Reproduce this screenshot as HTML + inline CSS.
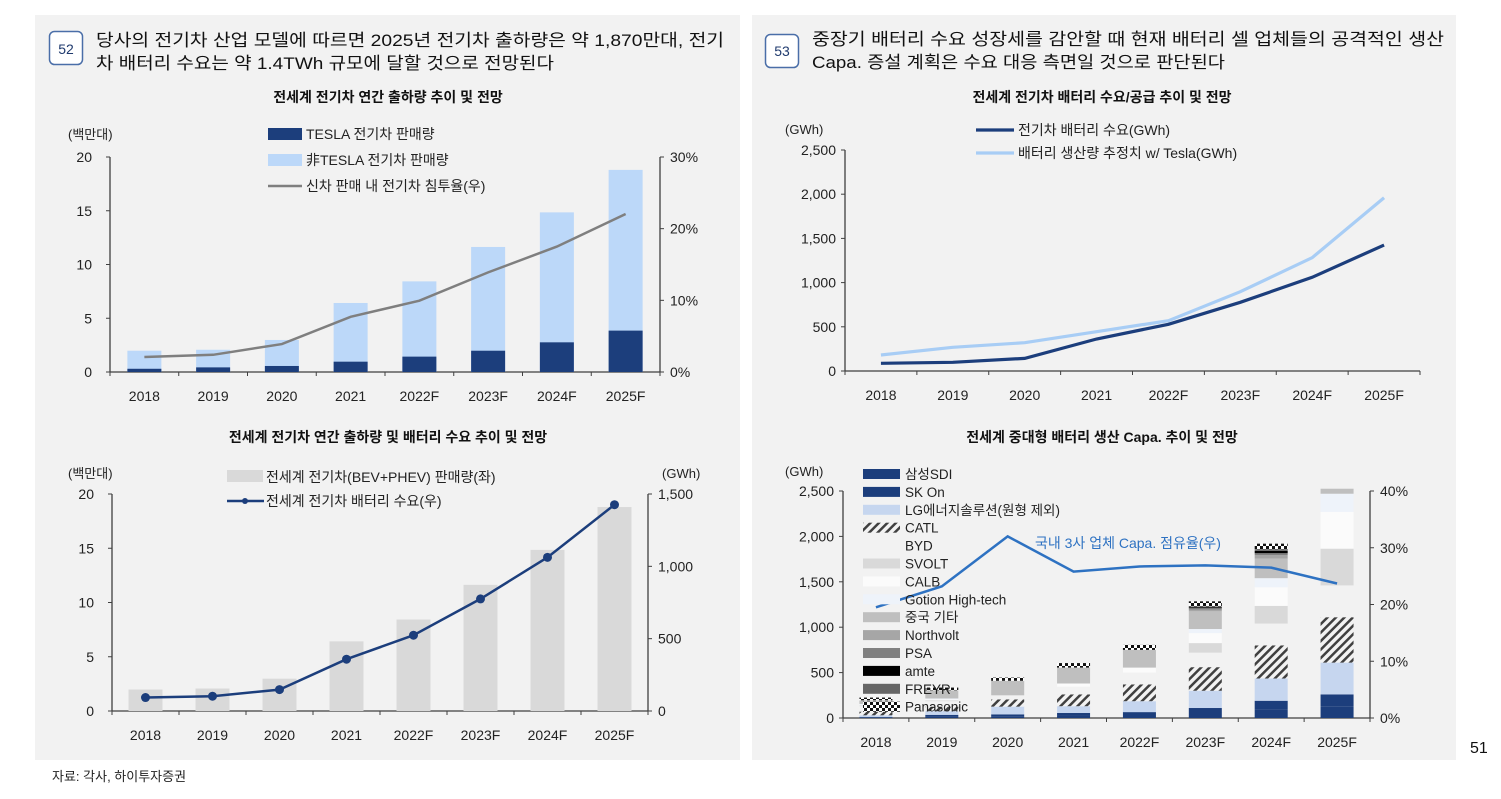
<!DOCTYPE html>
<html><head><meta charset="utf-8">
<style>
html,body{margin:0;padding:0;background:#fff;}
svg{display:block;font-family:"Liberation Sans","Noto Sans CJK KR",sans-serif;}
</style></head>
<body>
<svg id="root" width="1501" height="799" viewBox="0 0 1501 799" xmlns="http://www.w3.org/2000/svg">
<defs>
<pattern id="hatch" patternUnits="userSpaceOnUse" width="6" height="6" patternTransform="rotate(45)">
<rect width="6" height="6" fill="#f2f2f2"/><rect width="2.5" height="6" fill="#404040"/></pattern>
<pattern id="checker" patternUnits="userSpaceOnUse" width="6" height="6">
<rect width="6" height="6" fill="#fff"/><rect width="3" height="3" fill="#111"/><rect x="3" y="3" width="3" height="3" fill="#111"/></pattern>
</defs>
<rect x="35" y="15" width="705" height="745" fill="#f2f2f2"/>
<rect x="752" y="15" width="704" height="745" fill="#f2f2f2"/>
<g>
<rect x="49.5" y="31.5" width="33" height="33" rx="5" fill="#fff" stroke="#4a6ea8" stroke-width="1.5"/>
<text x="66" y="54" font-size="14" text-anchor="middle" fill="#1f3a6e">52</text>
<text x="96" y="46" font-size="17" fill="#111" textLength="628" lengthAdjust="spacingAndGlyphs">당사의 전기차 산업 모델에 따르면 2025년 전기차 출하량은 약 1,870만대, 전기</text>
<text x="96" y="69" font-size="17" fill="#111" textLength="458" lengthAdjust="spacingAndGlyphs">차 배터리 수요는 약 1.4TWh 규모에 달할 것으로 전망된다</text>
</g>
<g>
<rect x="765.5" y="34.5" width="33" height="33" rx="5" fill="#fff" stroke="#4a6ea8" stroke-width="1.5"/>
<text x="782" y="56" font-size="14" text-anchor="middle" fill="#1f3a6e">53</text>
<text x="812" y="45" font-size="17" fill="#111" textLength="632" lengthAdjust="spacingAndGlyphs">중장기 배터리 수요 성장세를 감안할 때 현재 배터리 셀 업체들의 공격적인 생산</text>
<text x="812" y="68" font-size="17" fill="#111" textLength="413" lengthAdjust="spacingAndGlyphs">Capa. 증설 계획은 수요 대응 측면일 것으로 판단된다</text>
</g>
<text x="388" y="102" font-size="14" font-weight="bold" text-anchor="middle" fill="#111">전세계 전기차 연간 출하량 추이 및 전망</text>
<text x="388" y="442" font-size="14" font-weight="bold" text-anchor="middle" fill="#111">전세계 전기차 연간 출하량 및 배터리 수요 추이 및 전망</text>
<text x="1102" y="102" font-size="14" font-weight="bold" text-anchor="middle" fill="#111">전세계 전기차 배터리 수요/공급 추이 및 전망</text>
<text x="1102" y="442" font-size="14" font-weight="bold" text-anchor="middle" fill="#111">전세계 중대형 배터리 생산 Capa. 추이 및 전망</text>
<text x="52" y="781" font-size="13" fill="#222">자료: 각사, 하이투자증권</text>
<text x="1470" y="753" font-size="16" fill="#111">51</text>
<g id="c1"></g><g id="c2"></g><g id="c3"></g><g id="c4"></g>
</svg>
<script>
// ---------- data ----------
const years = ["2018","2019","2020","2021","2022F","2023F","2024F","2025F"];
const evTotal = [1.98, 2.07, 2.98, 6.42, 8.43, 11.63, 14.85, 18.8];
const evTesla = [0.3, 0.43, 0.56, 0.96, 1.43, 1.98, 2.76, 3.85];
const evPenetration = [2.1, 2.4, 3.9, 7.7, 9.95, 13.9, 17.5, 22.05];
const batteryDemand = [93, 102, 148, 358, 524, 775, 1062, 1426];
const demandGWh = [87, 98, 143, 362, 528, 777, 1060, 1425];
const supplyGWh = [181, 268, 320, 445, 569, 897, 1282, 1960];
const capaNames = ["삼성SDI","SK On","LG에너지솔루션(원형 제외)","CATL","BYD","SVOLT","CALB","Gotion High-tech","중국 기타","Northvolt","PSA","amte","FREYR","Panasonic"];
const capaSDI = [5, 18, 20, 28, 33, 55, 95, 130];
const capaSKOn = [5, 17, 20, 27, 32, 55, 95, 130];
const capaLG = [20, 40, 85, 75, 120, 190, 245, 350];
const capaCATL = [40, 50, 80, 130, 185, 260, 365, 500];
const capaBYD = [60, 60, 45, 85, 130, 160, 240, 350];
const capaSVOLT = [10, 10, 0, 0, 0, 105, 195, 405];
const capaCALB = [5, 10, 0, 35, 55, 110, 205, 405];
const capaGotion = [10, 10, 0, 0, 0, 45, 100, 200];
const capaChinaOther = [40, 90, 160, 175, 195, 195, 215, 55];
const capaNorthvolt = [0, 0, 0, 0, 0, 20, 40, 0];
const capaPSA = [0, 0, 0, 0, 0, 15, 20, 0];
const capaAmte = [0, 0, 0, 0, 0, 10, 25, 0];
const capaFREYR = [0, 0, 0, 0, 0, 10, 20, 0];
const capaPanasonic = [30, 30, 35, 50, 55, 55, 60, 0];
const domesticShare = [19.5, 23.2, 32.0, 25.8, 26.7, 26.9, 26.5, 23.7];
const leftTicks1 = [0,5,10,15,20];
const rightTicks1 = [0,10,20,30];
const rightTicks2 = [0,500,1000,1500];
const ticks3 = [0,500,1000,1500,2000,2500];
const rightTicks4 = [0,10,20,30,40];

const NS="http://www.w3.org/2000/svg";
function mk(parent, tag, attrs, text){
  const e=document.createElementNS(NS,tag);
  for(const k in attrs) e.setAttribute(k,attrs[k]);
  if(text!==undefined) e.textContent=text;
  parent.appendChild(e); return e;
}
const fmt = v => v.toLocaleString("en-US");

function axes(g, x0, x1, yTop, yBase, lScale, lTicks, lFmt, rScale, rTicks, rFmt, labelDx){
  let e;
  e=mk(g,"line",{x1:x0,y1:yTop,x2:x0,y2:yBase,stroke:"#404040","stroke-width":1.3});
   
  lTicks.forEach(t=>{
    const y=lScale(t);
    e=mk(g,"line",{x1:x0-4,y1:y,x2:x0,y2:y,stroke:"#404040"});
     
    e=mk(g,"text",{x:x0-labelDx,y:y+5,"font-size":14,"text-anchor":"end",fill:"#222"},lFmt(t));
     
  });
  if(rScale){
    e=mk(g,"line",{x1:x1,y1:yTop,x2:x1,y2:yBase,stroke:"#404040","stroke-width":1.3});
     
    rTicks.forEach(t=>{
      const y=rScale(t);
      e=mk(g,"line",{x1:x1,y1:y,x2:x1+4,y2:y,stroke:"#404040"});
       
      e=mk(g,"text",{x:x1+10,y:y+5,"font-size":14,fill:"#222"},rFmt(t));
       
    });
  }
  e=mk(g,"line",{x1:x0,y1:yBase,x2:x1,y2:yBase,stroke:"#404040","stroke-width":1.3});
   
  const w=(x1-x0)/years.length;
  for(let i=0;i<=years.length;i++){
    e=mk(g,"line",{x1:x0+w*i,y1:yBase,x2:x0+w*i,y2:yBase+4,stroke:"#404040"});
     
  }
  years.forEach((yr,i)=>{
    e=mk(g,"text",{x:x0+w*(i+0.5),y:yBase+29,"font-size":14,"text-anchor":"middle",fill:"#222"},yr);
     
  });
  return i=>x0+w*(i+0.5);
}

// ---------- chart 1 ----------
(function(){
  const g=document.getElementById("c1");
   
  const yB=372,yT=157;
  const yL=v=>yB-(v/20)*(yB-yT), yR=v=>yB-(v/30)*(yB-yT);
  const xc=axes(g,110,660,yT,yB,yL,leftTicks1,String,yR,rightTicks1,v=>v+"%",18);
  let e=mk(g,"text",{x:68,y:139,"font-size":13,fill:"#222"},"(백만대)");
   
  evTotal.forEach((v,i)=>{
    e=mk(g,"rect",{x:xc(i)-17,y:yL(v),width:34,height:yB-yL(v),fill:"#bcd8f9"});
     
    e=mk(g,"rect",{x:xc(i)-17,y:yL(evTesla[i]),width:34,height:yB-yL(evTesla[i]),fill:"#1c3e7c"});
     
  });
  e=mk(g,"polyline",{points:evPenetration.map((v,i)=>xc(i)+","+yR(v)).join(" "),fill:"none",stroke:"#7f7f7f","stroke-width":2.5});
   
  const leg=[["rect","#1c3e7c","TESLA 전기차 판매량",134],["rect","#bcd8f9","非TESLA 전기차 판매량",160],["line","#7f7f7f","신차 판매 내 전기차 침투율(우)",186]];
  leg.forEach(l=>{
    if(l[0]=="rect"){e=mk(g,"rect",{x:268,y:l[3]-6,width:34,height:12,fill:l[1]});}
    else{e=mk(g,"line",{x1:268,y1:l[3],x2:302,y2:l[3],stroke:l[1],"stroke-width":2.5});}
     
    e=mk(g,"text",{x:306,y:l[3]+5,"font-size":14,fill:"#222"},l[2]);
     
  });
})();

// ---------- chart 2 ----------
(function(){
  const g=document.getElementById("c2");
   
  const yB=711,yT=494;
  const yL=v=>yB-(v/20)*(yB-yT), yR=v=>yB-(v/1500)*(yB-yT);
  const xc=axes(g,112,648,yT,yB,yL,leftTicks1,String,yR,rightTicks2,fmt,18);
  let e=mk(g,"text",{x:68,y:478,"font-size":13,fill:"#222"},"(백만대)");
   
  e=mk(g,"text",{x:662,y:478,"font-size":13,fill:"#222"},"(GWh)");
   
  evTotal.forEach((v,i)=>{
    e=mk(g,"rect",{x:xc(i)-17,y:yL(v),width:34,height:yB-yL(v),fill:"#d9d9d9"});
     
  });
  e=mk(g,"polyline",{points:batteryDemand.map((v,i)=>xc(i)+","+yR(v)).join(" "),fill:"none",stroke:"#1c3e7c","stroke-width":2.5});
   
  batteryDemand.forEach((v,i)=>{
    e=mk(g,"circle",{cx:xc(i),cy:yR(v),r:4.5,fill:"#1c3e7c"});
     
  });
  e=mk(g,"rect",{x:227,y:470,width:36,height:12,fill:"#d9d9d9"});
   
  e=mk(g,"text",{x:266,y:482,"font-size":14,fill:"#222"},"전세계 전기차(BEV+PHEV) 판매량(좌)");
   
  e=mk(g,"line",{x1:227,y1:501,x2:264,y2:501,stroke:"#1c3e7c","stroke-width":2.5});
   
  e=mk(g,"circle",{cx:245,cy:501,r:3,fill:"#1c3e7c"});
   
  e=mk(g,"text",{x:266,y:506,"font-size":14,fill:"#222"},"전세계 전기차 배터리 수요(우)");
   
})();

// ---------- chart 3 ----------
(function(){
  const g=document.getElementById("c3");
   
  const yB=371,yT=150;
  const yL=v=>yB-(v/2500)*(yB-yT);
  const xc=axes(g,845,1420,yT,yB,yL,ticks3,fmt,null,null,null,9);
  let e=mk(g,"text",{x:785,y:134,"font-size":13,fill:"#222"},"(GWh)");
   
  e=mk(g,"polyline",{points:supplyGWh.map((v,i)=>xc(i)+","+yL(v)).join(" "),fill:"none",stroke:"#a8cdf5","stroke-width":3.2});
   
  e=mk(g,"polyline",{points:demandGWh.map((v,i)=>xc(i)+","+yL(v)).join(" "),fill:"none",stroke:"#1c3e7c","stroke-width":3.2});
   
  [["#1c3e7c","전기차 배터리 수요(GWh)",130],["#a8cdf5","배터리 생산량 추정치 w/ Tesla(GWh)",153]].forEach(l=>{
    e=mk(g,"line",{x1:976,y1:l[2],x2:1014,y2:l[2],stroke:l[0],"stroke-width":3.2});
     
    e=mk(g,"text",{x:1018,y:l[2]+5,"font-size":14,fill:"#222"},l[1]);
     
  });
})();

// ---------- chart 4 ----------
(function(){
  const g=document.getElementById("c4");
   
  const yB=718,yT=491;
  const yL=v=>yB-(v/2500)*(yB-yT), yR=v=>yB-(v/40)*(yB-yT);
  const xc=axes(g,843,1370,yT,yB,yL,ticks3,fmt,yR,rightTicks4,v=>v+"%",9);
  let e=mk(g,"text",{x:785,y:476,"font-size":13,fill:"#222"},"(GWh)");
   
  const series=[capaSDI,capaSKOn,capaLG,capaCATL,capaBYD,capaSVOLT,capaCALB,capaGotion,capaChinaOther,capaNorthvolt,capaPSA,capaAmte,capaFREYR,capaPanasonic];
  const fills=["#1c3e7c","#1c3e7c","#c6d6ef","url(#hatch)","#f2f2f2","#d9d9d9","#fbfbfb","#eef3fa","#bfbfbf","#a6a6a6","#808080","#000","#666","url(#checker)"];
  years.forEach((yr,i)=>{
    let acc=0;
    series.forEach((s,k)=>{
      const v=s[i]; if(v<=0) return;
      e=mk(g,"rect",{x:xc(i)-16.5,y:yL(acc+v),width:33,height:yL(acc)-yL(acc+v),fill:fills[k]});
       
      acc+=v;
    });
  });
  e=mk(g,"polyline",{points:domesticShare.map((v,i)=>xc(i)+","+yR(v)).join(" "),fill:"none",stroke:"#2e72c2","stroke-width":2.5});
   
  e=mk(g,"text",{x:1035,y:548,"font-size":14,fill:"#2e72c2"},"국내 3사 업체 Capa. 점유율(우)");
   
  capaNames.forEach((n,k)=>{
    const y=474+k*17.9;
    if(k!==4){
      e=mk(g,"rect",{x:863,y:y-5,width:37,height:10,fill:fills[k]});
       
    }
    e=mk(g,"text",{x:905,y:y+5,"font-size":13.5,fill:"#222"},n);
     
  });
})();
</script>
</body></html>
